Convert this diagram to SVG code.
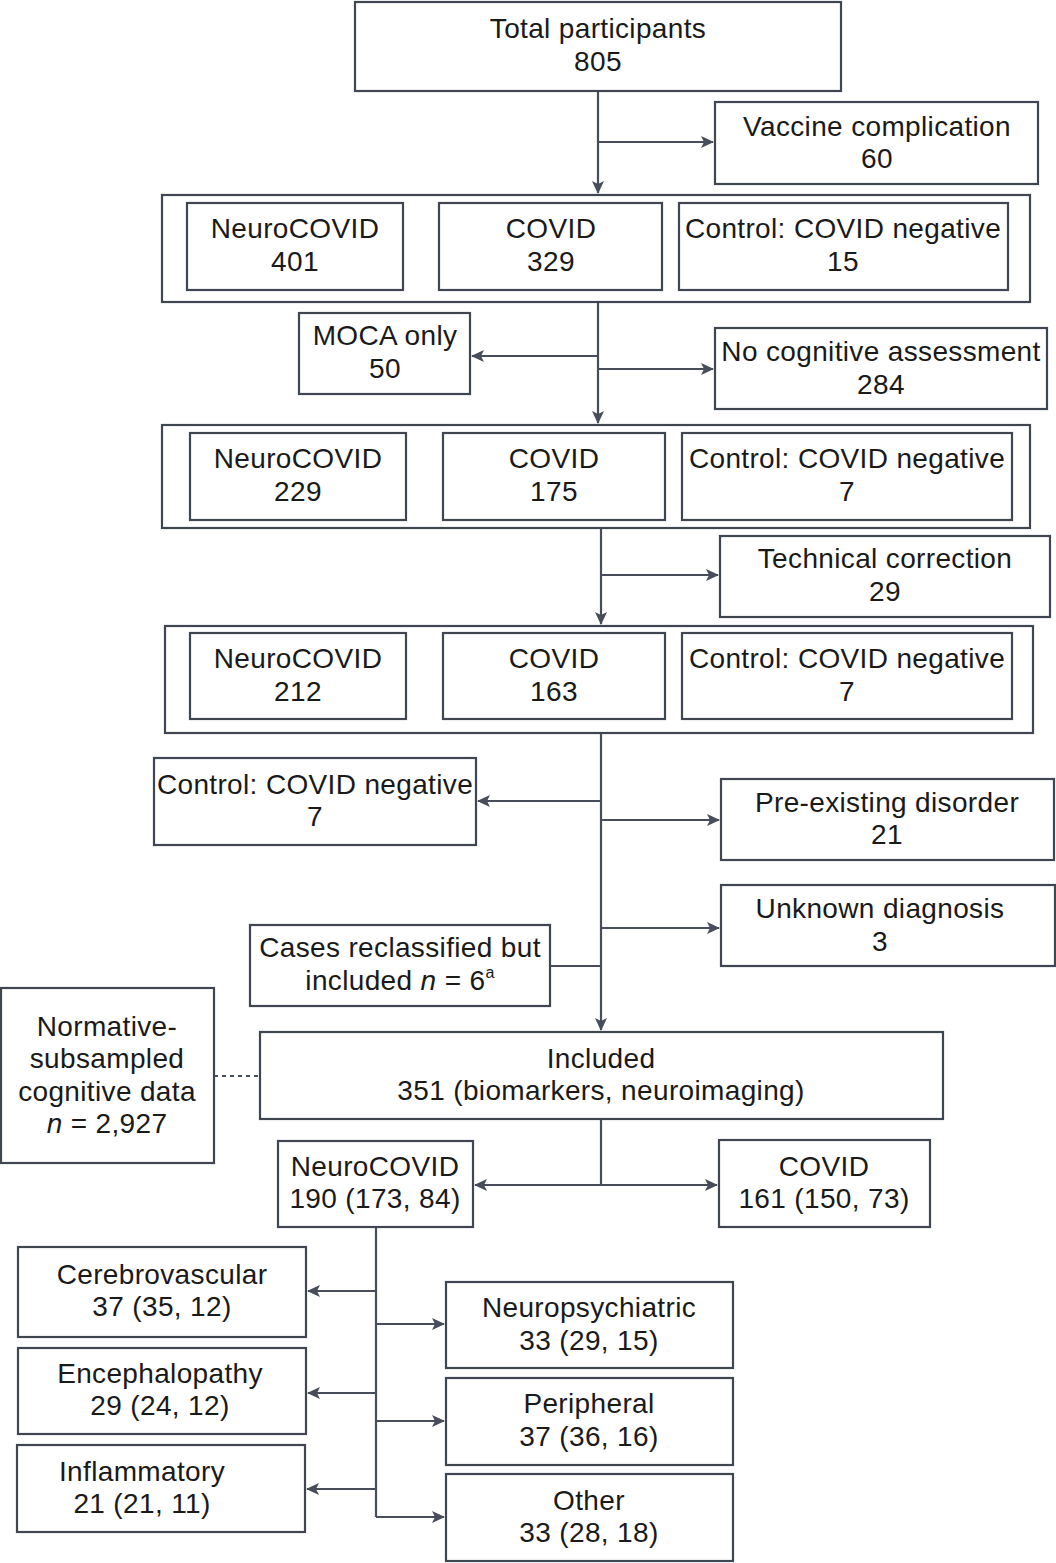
<svg xmlns="http://www.w3.org/2000/svg" width="1056" height="1563" viewBox="0 0 1056 1563">
<style>
.b{fill:#fff;stroke:#3f4551;stroke-width:2.2}
.t{font-family:"Liberation Sans",Arial,sans-serif;font-size:28px;letter-spacing:0.35px;fill:#1a1a1a;text-anchor:middle}
.c{fill:none;stroke:#474d5a;stroke-width:2.2}
.a{marker-end:url(#ah)}
.d{fill:none;stroke:#474d5a;stroke-width:2.2;stroke-dasharray:4 4}
</style>
<defs>
<marker id="ah" markerUnits="userSpaceOnUse" markerWidth="14" markerHeight="12" refX="12" refY="6" orient="auto">
<path d="M0,0 L13,6 L0,12 L3,6 Z" fill="#474d5a"/>
</marker>
</defs>
<rect width="1056" height="1563" fill="#fff"/>
<g id="connectors">
<path class="c a" d="M598 91 V193"/>
<path class="c a" d="M598 142 H713"/>
<path class="c a" d="M598 302 V423"/>
<path class="c a" d="M598 356 H472"/>
<path class="c a" d="M598 369 H713"/>
<path class="c a" d="M601 528 V624"/>
<path class="c a" d="M601 575 H718"/>
<path class="c a" d="M601 733 V1030"/>
<path class="c a" d="M601 801 H478"/>
<path class="c a" d="M601 820 H719"/>
<path class="c a" d="M601 928 H719"/>
<path class="c" d="M550 966 H601"/>
<path class="d" d="M214 1076 H260"/>
<path class="c" d="M601 1119 V1185"/>
<path class="c a" d="M601 1185 H475"/>
<path class="c a" d="M601 1185 H717"/>
<path class="c" d="M376 1227 V1517"/>
<path class="c a" d="M376 1291 H308"/>
<path class="c a" d="M376 1393 H308"/>
<path class="c a" d="M376 1489 H307"/>
<path class="c a" d="M376 1324 H444"/>
<path class="c a" d="M376 1421 H444"/>
<path class="c a" d="M376 1517 H444"/>
</g>
<g id="total"><rect class="b" x="355" y="2" width="486" height="89"/><text class="t" x="598" y="38">Total participants</text><text class="t" x="598" y="71">805</text></g>
<g id="vaccine"><rect class="b" x="715" y="102" width="323" height="82"/><text class="t" x="877" y="136">Vaccine complication</text><text class="t" x="877" y="168">60</text></g>
<g id="group1">
<rect class="b" x="162" y="195" width="868" height="107"/>
<g id="g1-neuro"><rect class="b" x="187" y="203" width="216" height="87"/><text class="t" x="295" y="238">NeuroCOVID</text><text class="t" x="295" y="271">401</text></g>
<g id="g1-covid"><rect class="b" x="439" y="203" width="223" height="87"/><text class="t" x="551" y="238">COVID</text><text class="t" x="551" y="271">329</text></g>
<g id="g1-control"><rect class="b" x="679" y="203" width="329" height="87"/><text class="t" x="843" y="238">Control: COVID negative</text><text class="t" x="843" y="271">15</text></g>
</g>
<g id="moca"><rect class="b" x="299" y="313" width="171" height="81"/><text class="t" x="385" y="345">MOCA only</text><text class="t" x="385" y="378">50</text></g>
<g id="nocog"><rect class="b" x="715" y="328" width="332" height="81"/><text class="t" x="881" y="361">No cognitive assessment</text><text class="t" x="881" y="394">284</text></g>
<g id="group2">
<rect class="b" x="162" y="425" width="868" height="103"/>
<g id="g2-neuro"><rect class="b" x="190" y="433" width="216" height="87"/><text class="t" x="298" y="468">NeuroCOVID</text><text class="t" x="298" y="501">229</text></g>
<g id="g2-covid"><rect class="b" x="443" y="433" width="222" height="87"/><text class="t" x="554" y="468">COVID</text><text class="t" x="554" y="501">175</text></g>
<g id="g2-control"><rect class="b" x="682" y="433" width="330" height="87"/><text class="t" x="847" y="468">Control: COVID negative</text><text class="t" x="847" y="501">7</text></g>
</g>
<g id="technical"><rect class="b" x="720" y="536" width="330" height="81"/><text class="t" x="885" y="568">Technical correction</text><text class="t" x="885" y="601">29</text></g>
<g id="group3">
<rect class="b" x="165" y="626" width="868" height="107"/>
<g id="g3-neuro"><rect class="b" x="190" y="633" width="216" height="86"/><text class="t" x="298" y="668">NeuroCOVID</text><text class="t" x="298" y="701">212</text></g>
<g id="g3-covid"><rect class="b" x="443" y="633" width="222" height="86"/><text class="t" x="554" y="668">COVID</text><text class="t" x="554" y="701">163</text></g>
<g id="g3-control"><rect class="b" x="682" y="633" width="330" height="86"/><text class="t" x="847" y="668">Control: COVID negative</text><text class="t" x="847" y="701">7</text></g>
</g>
<g id="control-left"><rect class="b" x="154" y="758" width="322" height="87"/><text class="t" x="315" y="794">Control: COVID negative</text><text class="t" x="315" y="826">7</text></g>
<g id="preexisting"><rect class="b" x="721" y="779" width="333" height="81"/><text class="t" x="887" y="812">Pre-existing disorder</text><text class="t" x="887" y="844">21</text></g>
<g id="unknown"><rect class="b" x="721" y="885" width="334" height="81"/><text class="t" x="880" y="918">Unknown diagnosis</text><text class="t" x="880" y="951">3</text></g>
<g id="reclassified"><rect class="b" x="250" y="925" width="300" height="81"/><text class="t" x="400" y="957">Cases reclassified but</text><text class="t" x="400" y="990">included <tspan font-style="italic">n</tspan> = 6<tspan font-size="16" dy="-12">a</tspan></text></g>
<g id="normative"><rect class="b" x="1" y="988" width="213" height="175"/><text class="t" x="107" y="1036">Normative-</text><text class="t" x="107" y="1068">subsampled</text><text class="t" x="107" y="1101">cognitive data</text><text class="t" x="107" y="1133"><tspan font-style="italic">n</tspan> = 2,927</text></g>
<g id="included"><rect class="b" x="260" y="1032" width="683" height="87"/><text class="t" x="601" y="1068">Included</text><text class="t" x="601" y="1100">351 (biomarkers, neuroimaging)</text></g>
<g id="neuro190"><rect class="b" x="278" y="1141" width="195" height="86"/><text class="t" x="375" y="1176">NeuroCOVID</text><text class="t" x="375" y="1208">190 (173, 84)</text></g>
<g id="covid161"><rect class="b" x="719" y="1140" width="211" height="87"/><text class="t" x="824" y="1176">COVID</text><text class="t" x="824" y="1208">161 (150, 73)</text></g>
<g id="cerebro"><rect class="b" x="18" y="1247" width="288" height="90"/><text class="t" x="162" y="1284">Cerebrovascular</text><text class="t" x="162" y="1316">37 (35, 12)</text></g>
<g id="enceph"><rect class="b" x="18" y="1348" width="288" height="86"/><text class="t" x="160" y="1383">Encephalopathy</text><text class="t" x="160" y="1415">29 (24, 12)</text></g>
<g id="inflam"><rect class="b" x="17" y="1445" width="288" height="87"/><text class="t" x="142" y="1481">Inflammatory</text><text class="t" x="142" y="1513">21 (21, 11)</text></g>
<g id="neuropsych"><rect class="b" x="446" y="1282" width="287" height="86"/><text class="t" x="589" y="1317">Neuropsychiatric</text><text class="t" x="589" y="1350">33 (29, 15)</text></g>
<g id="peripheral"><rect class="b" x="446" y="1378" width="287" height="87"/><text class="t" x="589" y="1413">Peripheral</text><text class="t" x="589" y="1446">37 (36, 16)</text></g>
<g id="other"><rect class="b" x="446" y="1474" width="287" height="87"/><text class="t" x="589" y="1510">Other</text><text class="t" x="589" y="1542">33 (28, 18)</text></g>
</svg>
